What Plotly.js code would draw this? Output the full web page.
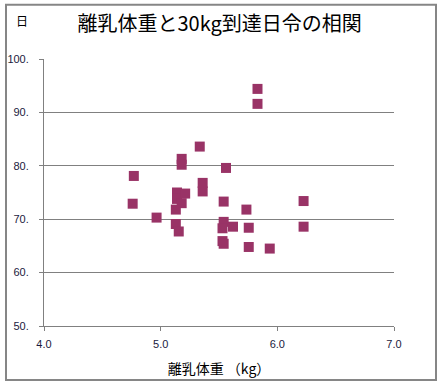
<!DOCTYPE html>
<html>
<head>
<meta charset="utf-8">
<script src="https://cdn.plot.ly/plotly-3.0.1.min.js"></script>
<style>html,body{margin:0;padding:0;background:#fff;}#chart{width:442px;height:385px;}</style>
</head>
<body>
<div id="chart"></div>
<script>
const weaningWeight = [4.77, 4.76, 4.965, 5.13, 5.13, 5.155, 5.14, 5.14, 5.21, 5.18, 5.18, 5.18, 5.335, 5.36, 5.36, 5.54, 5.56, 5.54, 5.53, 5.62, 5.53, 5.54, 5.735, 5.755, 5.755, 5.935, 5.83, 5.83, 6.225, 6.225];
const daysTo30kg = [78.1, 72.9, 70.3, 71.8, 69.1, 67.7, 75.0, 73.8, 74.8, 73.0, 81.3, 80.2, 83.6, 76.8, 75.2, 73.3, 79.6, 69.5, 68.3, 68.6, 65.9, 65.4, 71.8, 68.4, 64.8, 64.5, 94.4, 91.6, 73.4, 68.6];
const yTickVals = [50, 60, 70, 80, 90, 100];
const yTickText = ["50.", "60.", "70.", "80.", "90.", "100."];
const xTickVals = [4, 5, 6, 7];
const xTickText = ["4.0", "5.0", "6.0", "7.0"];
const titleText = "離乳体重と30kg到達日令の相関";
const xTitleText = "離乳体重 （kg）";
const yTitleText = "日";

const jp = '"Noto Sans CJK JP", "Noto Sans", sans-serif';
const tickFont = {family: '"Liberation Sans", Arial, sans-serif', size: 11, color: '#1a1a40'};

const trace = {
  x: weaningWeight,
  y: daysTo30kg,
  type: 'scatter',
  mode: 'markers',
  marker: {symbol: 'square', size: 10, color: '#993366', line: {width: 0}},
  hoverinfo: 'x+y'
};

const layout = {
  width: 442,
  height: 385,
  margin: {l: 44, r: 48, t: 59, b: 59},
  paper_bgcolor: '#ffffff',
  plot_bgcolor: '#ffffff',
  showlegend: false,
  title: {
    text: titleText,
    font: {family: jp, size: 20, color: '#000'},
    xref: 'container', x: 0.497, xanchor: 'center',
    yref: 'container', y: 1 - 24/385, yanchor: 'middle'
  },
  xaxis: {
    range: [4, 7],
    tickvals: xTickVals,
    ticktext: xTickText,
    ticks: 'outside', ticklen: 4, tickcolor: '#808080', tickwidth: 1,
    ticklabelstandoff: 4,
    showline: true, linecolor: '#808080', linewidth: 1,
    showgrid: false, zeroline: false,
    tickfont: tickFont,
    title: {text: xTitleText, font: {family: jp, size: 14, color: '#000'}, standoff: 14}
  },
  yaxis: {
    range: [50, 100],
    tickvals: yTickVals,
    ticktext: yTickText,
    ticks: 'outside', ticklen: 4, tickcolor: '#808080', tickwidth: 1,
    ticklabelstandoff: 8,
    showline: true, linecolor: '#808080', linewidth: 1,
    showgrid: true, gridcolor: '#808080', gridwidth: 1,
    zeroline: false,
    tickfont: tickFont
  },
  annotations: [{
    text: yTitleText,
    xref: 'paper', yref: 'paper',
    x: (22 - 44) / 350, y: (326 - 21) / 266.7,
    xanchor: 'center', yanchor: 'middle',
    showarrow: false,
    font: {family: jp, size: 12, color: '#000'}
  }],
  shapes: [{
    type: 'rect', xref: 'paper', yref: 'paper',
    x0: (6 - 44) / 350, x1: (436 - 44) / 350,
    y0: (326 - 380) / 266.7, y1: (326 - 5) / 266.7,
    line: {color: '#868686', width: 2}, fillcolor: 'rgba(0,0,0,0)', layer: 'below'
  }]
};

Plotly.newPlot('chart', [trace], layout, {displayModeBar: false, staticPlot: true});
</script>
</body>
</html>
